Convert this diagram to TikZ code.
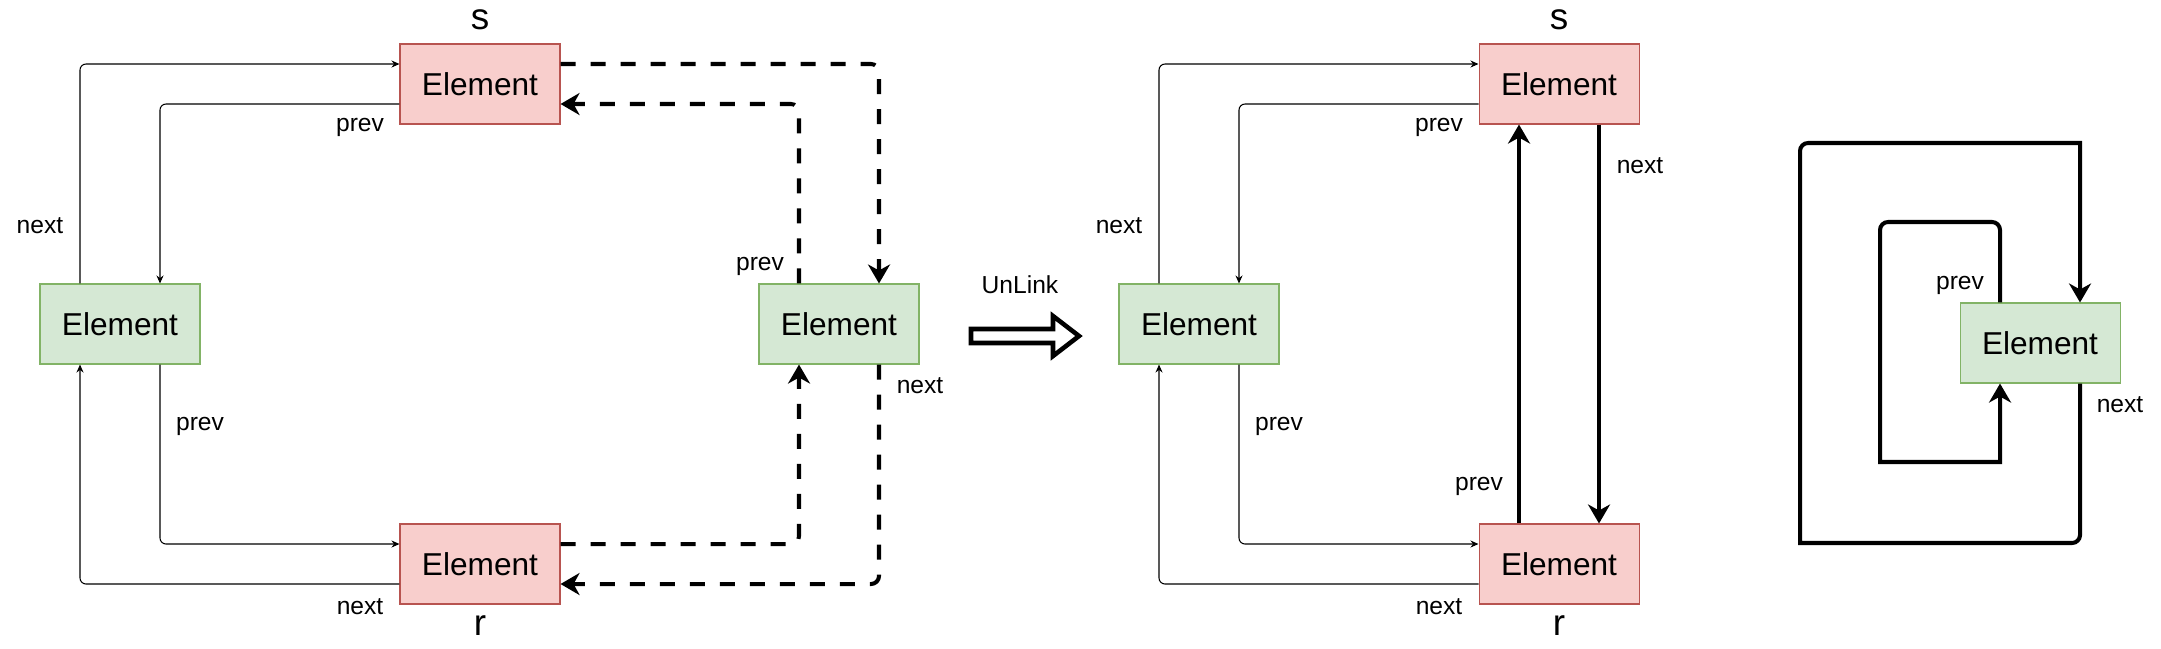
\documentclass[tikz,border=0pt]{standalone}
\usepackage{fontspec}
\setmainfont{Liberation Sans}
\usetikzlibrary{arrows.meta}
\definecolor{redfill}{HTML}{F8CECC}
\definecolor{redline}{HTML}{B85450}
\definecolor{greenfill}{HTML}{D5E8D4}
\definecolor{greenline}{HTML}{82B366}
\begin{document}
\begin{tikzpicture}[
    x=0.1mm,y=-0.1mm,
    every node/.style={font=\fontsize{7pt}{8pt}\selectfont, inner sep=0pt},
    box/.style={draw, line width=0.3pt, minimum width=16mm, minimum height=8mm, font=\fontsize{9pt}{11pt}\selectfont},
    redbox/.style={box, draw=redline, fill=redfill},
    greenbox/.style={box, draw=greenline, fill=greenfill},
    tag/.style={font=\fontsize{10.5pt}{12pt}\selectfont},
    link/.style={line width=0.3pt, rounded corners=0.6mm, -{Stealth[length=0.8mm,width=0.7mm]}},
    bold/.style={line width=1.15pt, rounded corners=0.8mm, -{Stealth[length=1.9mm,width=2.2mm,inset=0.6mm]}},
    old/.style={bold, dash pattern=on 1.5mm off 1.5mm}
]
    \useasboundingbox (0,0) rectangle (2161,648);

    % the part both lists share
    \foreach \n/\ox in {1/0,2/1079} {
        \node[redbox] (s\n) at (480+\ox,84) {Element};
        \node[redbox] (r\n) at (480+\ox,564) {Element};
        \node[greenbox] (a\n) at (120+\ox,324) {Element};
        \node[tag] at (480+\ox,20) {s};
        \node[tag] at (480+\ox,626) {r};

        \draw[link] ([xshift=-4mm]a\n.north) |- ([yshift=2mm]s\n.west);
        \draw[link] ([yshift=-2mm]s\n.west) -| ([xshift=4mm]a\n.north);
        \draw[link] ([xshift=4mm]a\n.south) |- ([yshift=2mm]r\n.west);
        \draw[link] ([yshift=-2mm]r\n.west) -| ([xshift=-4mm]a\n.south);

        \node at (360+\ox,127) {prev};
        \node at (40+\ox,226) {next};
        \node at (200+\ox,426) {prev};
        \node at (360+\ox,607) {next};
    }

    % before: element b between s and r
    \node[greenbox] (b1) at (839,324) {Element};
    \draw[old] ([yshift=2mm]s1.east) -| ([xshift=4mm]b1.north);
    \draw[old] ([xshift=-4mm]b1.north) |- ([yshift=-2mm]s1.east);
    \draw[old] ([yshift=2mm]r1.east) -| ([xshift=-4mm]b1.south);
    \draw[old] ([xshift=4mm]b1.south) |- ([yshift=-2mm]r1.east);
    \node at (760,266) {prev};
    \node at (920,386) {next};

    % unlink arrow
    \node at (1020,285) {UnLink};
    \draw[line width=1.3pt] (971,329) -- (1053,329) -- (1053,316) -- (1079,336)
        -- (1053,356) -- (1053,343) -- (971,343) -- cycle;

    % after: s and r joined
    \draw[bold] ([xshift=4mm]s2.south) -- ([xshift=4mm]r2.north);
    \draw[bold] ([xshift=-4mm]r2.north) -- ([xshift=-4mm]s2.south);
    \node at (1640,166) {next};
    \node at (1479,486) {prev};

    % b on its own
    \node[greenbox] (c) at (2040,343) {Element};
    \draw[bold] ([xshift=4mm]c.south) -- (2080,543) [sharp corners] -- (1800,543)
        [rounded corners=0.8mm] -- (1800,143) [sharp corners] -- (2080,143) -- ([xshift=4mm]c.north);
    \draw[bold] ([xshift=-4mm]c.north) -- (2000,222) -- (1880,222) [sharp corners] -- (1880,462)
        -- (2000,462) -- ([xshift=-4mm]c.south);
    \node at (1960,285) {prev};
    \node at (2120,405) {next};
\end{tikzpicture}
\end{document}
